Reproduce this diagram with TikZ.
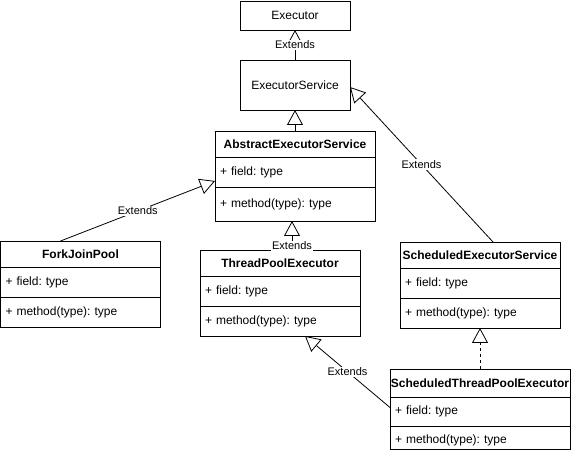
\documentclass[tikz,border=0pt]{standalone}
\usepackage{fontspec}
\setmainfont{Liberation Sans}
\usetikzlibrary{arrows.meta, positioning}
\frenchspacing

\begin{document}
\begin{tikzpicture}[x=1pt, y=-1pt, line width=0.8pt, font=\fontsize{12}{14}\selectfont,
    HEAD/.style={draw, outer sep=0pt, inner sep=0pt, minimum width=160pt, minimum height=26pt, font=\fontsize{12}{14}\selectfont\bfseries},
    MBR/.style={draw, outer sep=0pt, inner sep=0pt, minimum width=160pt, minimum height=30pt, text width=150pt, align=left},
    EXT/.style={-{Triangle[open, length=15pt, width=16pt]}},
    LBL/.style={fill=white, inner sep=1pt, font=\fontsize{11}{13}\selectfont}]
    \fill[white] (0,0) rectangle (571,454);
    \useasboundingbox (0,0) rectangle (571,454);
    % interfaces on top
    \node[draw, outer sep=0pt, minimum width=110pt, minimum height=29pt] (exec) at (295,15.5) {Executor};
    \node[draw, outer sep=0pt, minimum width=110pt, minimum height=50pt] (execsvc) at (295,85) {ExecutorService};
    % classes
    \node[HEAD, anchor=north west] (abs) at (215,131) {AbstractExecutorService};
    \node[MBR, below=0pt of abs] (absf) {+ field: type};
    \node[MBR, below=0pt of absf, minimum height=34pt] (absm) {+ method(type): type};
    \node[HEAD, anchor=north west] (fjp) at (0.5,241) {ForkJoinPool};
    \node[MBR, below=0pt of fjp] (fjpf) {+ field: type};
    \node[MBR, below=0pt of fjpf] (fjpm) {+ method(type): type};
    \node[HEAD, anchor=north west] (tpe) at (200,250) {ThreadPoolExecutor};
    \node[MBR, below=0pt of tpe] (tpef) {+ field: type};
    \node[MBR, below=0pt of tpef] (tpem) {+ method(type): type};
    \node[HEAD, anchor=north west] (ses) at (400,242) {ScheduledExecutorService};
    \node[MBR, below=0pt of ses] (sesf) {+ field: type};
    \node[MBR, below=0pt of sesf] (sesm) {+ method(type): type};
    \node[HEAD, anchor=north west, minimum width=180pt, minimum height=28pt] (stpe) at (390,369) {ScheduledThreadPoolExecutor};
    \node[MBR, below=0pt of stpe, minimum width=180pt, text width=170pt, minimum height=29pt] (stpef) {+ field: type};
    \node[MBR, below=0pt of stpef, minimum width=180pt, text width=170pt, minimum height=23pt, text height=16pt, text depth=3pt] (stpem) {+ method(type): type};
    % generalisations
    \draw[EXT] (execsvc) -- node[LBL] {Extends} (exec);
    \draw[EXT] (abs) -- (execsvc);
    \draw[EXT] ([xshift=-20pt]fjp.north) -- node[LBL] {Extends} ([yshift=-9pt]absf.west);
    \draw[EXT] ([xshift=12pt]tpe.north) -- node[LBL, pos=0.14] {Extends} ([xshift=12pt]tpe.north |- absm.south);
    \draw[EXT] ([xshift=13pt]ses.north) -- node[LBL] {Extends} ([yshift=-2pt]execsvc.east);
    \draw[EXT, dash pattern=on 3pt off 3pt] (stpe) -- (sesm);
    \draw[EXT] ([yshift=4pt]stpef.west) -- node[LBL] {Extends} ([xshift=25pt]tpem.south);
\end{tikzpicture}
\end{document}
